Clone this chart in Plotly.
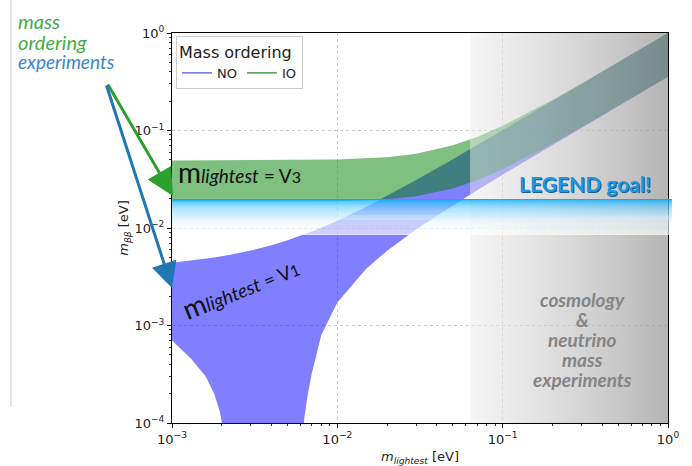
import plotly.graph_objects as go
import numpy as np

# ---------------- data ----------------
m_no = [1e-3, 1.3e-3, 1.6e-3, 1.8e-3, 1.95e-3, 2.05e-3, 2.15e-3, 2.25e-3, 3e-3, 4e-3, 5e-3,
        6e-3, 6.15e-3, 6.3e-3, 6.6e-3, 7e-3, 8e-3, 1e-2, 1.5e-2, 2e-2, 3e-2, 5e-2, 7e-2,
        0.1, 0.2, 0.3, 0.5, 0.7, 1.0]
no_upper = [0.00439, 0.00461, 0.00483, 0.00497, 0.00509, 0.00516, 0.00524, 0.00531, 0.00588,
            0.00667, 0.0075, 0.00834, 0.00847, 0.00859, 0.00885, 0.0092, 0.01007, 0.01187,
            0.01651, 0.02128, 0.03099, 0.05068, 0.07052, 0.1004, 0.2002, 0.3001, 0.5, 0.7, 1.0]
no_lower = [7.0e-4, 4.6e-4, 3.0e-4, 2.0e-4, 1.3e-4, 8e-5, 3e-5, 1e-6, 1e-6, 1e-6, 1e-6,
            1e-6, 5e-5, 1.1e-4, 1.9e-4, 3.2e-4, 8e-4, 1.72e-3, 3.85e-3, 5.85e-3, 9.7e-3,
            0.01712, 0.0244, 0.0352, 0.0710, 0.1067, 0.178, 0.249, 0.356]

m_io = [1e-3, 3e-3, 1e-2, 2e-2, 3e-2, 5e-2, 7e-2, 0.1, 0.2, 0.3, 0.5, 0.7, 1.0]
io_upper = [0.04916, 0.04928, 0.05031, 0.05332, 0.05788, 0.07041, 0.0858, 0.1116, 0.2061,
            0.3041, 0.5025, 0.7018, 1.0012]
io_lower = [0.01866, 0.01864, 0.01884, 0.01971, 0.02119, 0.02547, 0.03085, 0.03996, 0.07347,
            0.10833, 0.17892, 0.2498, 0.35646]

legend_goal = [0.0085, 0.0198]        # m_bb range of the LEGEND goal band
cosmo_region = [0.0635, 1.0]          # m_lightest range of cosmology region
cosmo_lines = ['cosmology', '&amp;', 'neutrino', 'mass', 'experiments']

x_ticks = [1e-3, 1e-2, 1e-1, 1.0]
x_ticktext = ['10<sup>−3</sup>', '10<sup>−2</sup>', '10<sup>−1</sup>', '10<sup>0</sup>']
y_ticks = [1e-4, 1e-3, 1e-2, 1e-1, 1.0]
y_ticktext = ['10<sup>−4</sup>', '10<sup>−3</sup>', '10<sup>−2</sup>', '10<sup>−1</sup>', '10<sup>0</sup>']
minor_digits = [2, 3, 4, 5, 6, 7, 8, 9]

X_RANGE = [-3, 0]
Y_RANGE = [-4, 0]

x_minor = [d * t for t in x_ticks[:-1] for d in minor_digits]
y_minor = [d * t for t in y_ticks[:-1] for d in minor_digits]

# ---------------- figure ----------------
fig = go.Figure()

# NO band
fig.add_trace(go.Scatter(x=m_no, y=no_lower, mode='lines', line=dict(width=0),
                         showlegend=False, hoverinfo='skip'))
fig.add_trace(go.Scatter(x=m_no, y=no_upper, mode='lines', line=dict(width=0),
                         fill='tonexty', fillcolor='rgba(0,0,255,0.5)',
                         showlegend=False, hoverinfo='skip'))
# IO band
fig.add_trace(go.Scatter(x=m_io, y=io_lower, mode='lines', line=dict(width=0),
                         showlegend=False, hoverinfo='skip'))
fig.add_trace(go.Scatter(x=m_io, y=io_upper, mode='lines', line=dict(width=0),
                         fill='tonexty', fillcolor='rgba(0,128,0,0.5)',
                         showlegend=False, hoverinfo='skip'))

# cosmology gray gradient region
ylo, yhi = 10 ** Y_RANGE[0], 10 ** Y_RANGE[1]
fig.add_trace(go.Scatter(
    x=[cosmo_region[0], cosmo_region[1], cosmo_region[1], cosmo_region[0], cosmo_region[0]],
    y=[ylo, ylo, yhi, yhi, ylo], mode='none', fill='toself',
    fillgradient=dict(type='horizontal',
                      colorscale=[[0, 'rgba(236,236,236,0.5)'], [1, 'rgba(145,145,145,0.68)']]),
    showlegend=False, hoverinfo='skip'))

# legend dummy traces
fig.add_trace(go.Scatter(x=[None], y=[None], mode='lines', name='NO',
                         line=dict(color='rgb(110,110,225)', width=1.5)))
fig.add_trace(go.Scatter(x=[None], y=[None], mode='lines', name='IO',
                         line=dict(color='rgb(70,155,70)', width=1.5)))

# LEGEND goal band as stacked gradient strips
def ypaper(v):
    return (np.log10(v) - Y_RANGE[0]) / (Y_RANGE[1] - Y_RANGE[0])

shapes = []
top = ypaper(legend_goal[1])
bot = ypaper(legend_goal[0])
N = 34
for i in range(N):
    t0 = i / N
    t1 = (i + 1) / N
    f = 1 - (1 - (t0 + t1) / 2) ** 2.4
    r = int(0 + (255 - 0) * f)
    g = int(172 + (255 - 172) * f)
    b = 255
    a = 1.0 - 0.25 * f
    shapes.append(dict(type='rect', xref='paper', yref='paper', x0=0, x1=1.008,
                       y0=top - (top - bot) * t1, y1=top - (top - bot) * t0,
                       fillcolor=f'rgba({r},{g},{b},{a:.3f})', line=dict(width=0), layer='above'))

# faint slide edge line on the left
shapes.append(dict(type='line', xref='paper', yref='paper', x0=-0.3246, x1=-0.3246,
                   y0=0.041, y1=1.085, line=dict(color='#dcdcdc', width=1.5)))
fig.update_layout(shapes=shapes)

annotations = [
    dict(text='mass', x=-0.3145, y=1.031, xref='paper', yref='paper', xanchor='left', yanchor='middle',
         showarrow=False, font=dict(family='Lato', size=20, color='#46ad46', style='italic')),
    dict(text='ordering', x=-0.3145, y=0.977, xref='paper', yref='paper', xanchor='left', yanchor='middle',
         showarrow=False, font=dict(family='Lato', size=20, color='#46ad46', style='italic')),
    dict(text='experiments', x=-0.3145, y=0.926, xref='paper', yref='paper', xanchor='left', yanchor='middle',
         showarrow=False, font=dict(family='Lato', size=19, color='#3a86c8', style='italic')),
    # arrows
    dict(text='', x=(173 - 172) / 496, y=(423 - 196) / 390, xref='paper', yref='paper',
         ax=-66, ay=-113, showarrow=True, arrowhead=2, arrowsize=1.8, arrowwidth=3,
         arrowcolor='#2ca02c'),
    dict(text='', x=(172 - 172) / 496, y=(423 - 288) / 390, xref='paper', yref='paper',
         ax=-66, ay=-204, showarrow=True, arrowhead=2, arrowsize=1.7, arrowwidth=3,
         arrowcolor='#1f77b4'),
    # mass ordering labels
    dict(text="<span style='font-size:28px'>m</span><i>lightest</i> = V<span style='font-size:16px'>3</span>",
         x=-2.975, y=-1.43, xref='x', yref='y', xanchor='left', yanchor='middle', showarrow=False,
         font=dict(family='Lato', size=19, color='#111')),
    dict(text="<span style='font-size:28px'>m</span><i>lightest</i> = V<span style='font-size:16px'>1</span>",
         x=-2.585, y=-2.61, xref='x', yref='y', xanchor='center', yanchor='middle', showarrow=False,
         textangle=-22, font=dict(family='Lato', size=19, color='#111')),
    # LEGEND goal with a darker shadow copy
    dict(text='<b>LEGEND goal!</b>', x=(585 - 172) / 496, y=(423 - 183) / 390,
         xref='paper', yref='paper', showarrow=False, xshift=1, yshift=-1,
         xanchor='center', yanchor='middle',
         font=dict(family='Lato', size=21, color='#17609a')),
    dict(text='<b>LEGEND goal!</b>', x=(585 - 172) / 496, y=(423 - 183) / 390,
         xref='paper', yref='paper', showarrow=False, xanchor='center', yanchor='middle',
         font=dict(family='Lato', size=21, color='#2196dc')),
]
for k, line in enumerate(cosmo_lines):
    annotations.append(dict(text=f'<b><i>{line}</i></b>', x=(582 - 172) / 496,
                            y=(423 - (299 + 20 * k)) / 390, xref='paper', yref='paper',
                            showarrow=False, xanchor='center', yanchor='middle',
                            font=dict(family='Lato', size=19, color='#858585')))
fig.update_layout(annotations=annotations)

axis_common = dict(type='log', showline=True, linecolor='black', linewidth=1, mirror=True,
                   ticks='outside', ticklen=4, tickcolor='black', automargin=False,
                   showgrid=True, gridcolor='#cccccc', griddash='dot', gridwidth=1,
                   zeroline=False,
                   tickfont=dict(family='DejaVu Sans', size=13, color='#222'))

fig.update_xaxes(range=X_RANGE, tickvals=x_ticks, ticktext=x_ticktext,
                 minor=dict(tickvals=x_minor, ticks='outside', ticklen=2, tickcolor='#333',
                            showgrid=False),
                 title=dict(text='<i>m</i><sub><i>lightest</i></sub> [eV]', standoff=6,
                            font=dict(family='DejaVu Sans', size=13, color='#222')),
                 **axis_common)
fig.update_yaxes(range=Y_RANGE, tickvals=y_ticks, ticktext=y_ticktext,
                 minor=dict(tickvals=y_minor, ticks='outside', ticklen=2, tickcolor='#333',
                            showgrid=False),
                 title=dict(text='<i>m</i><sub><i>ββ</i></sub> [eV]', standoff=2,
                            font=dict(family='DejaVu Sans', size=13, color='#222')),
                 **axis_common)

fig.update_layout(
    width=692, height=466,
    margin=dict(l=172, r=24, t=33, b=43),
    paper_bgcolor='white', plot_bgcolor='white',
    legend=dict(x=0.008, y=0.992, xanchor='left', yanchor='top', orientation='h',
                traceorder='normal',
                title=dict(text='Mass ordering', side='top', font=dict(family='DejaVu Sans', size=16, color='#222')),
                font=dict(family='DejaVu Sans', size=13, color='#222'),
                bgcolor='rgba(255,255,255,0.85)', bordercolor='#cccccc', borderwidth=1,
                itemwidth=30, tracegroupgap=0),
)

fig.write_html('out.html')
